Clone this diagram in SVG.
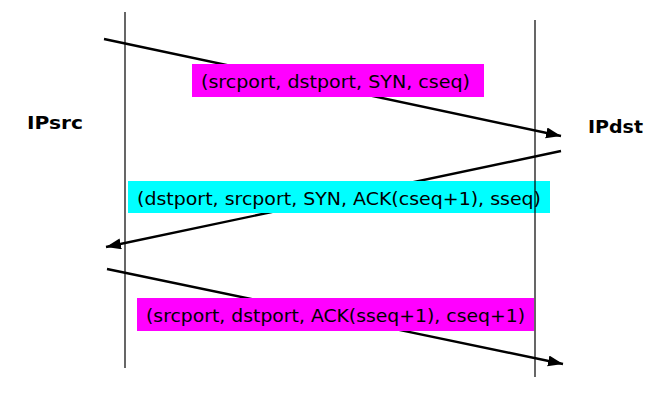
<svg xmlns="http://www.w3.org/2000/svg" width="668" height="406" viewBox="0 0 668 406">
<style>
.life{stroke:#000;stroke-width:1.2;fill:none}
.msg{stroke:#000;stroke-width:2.4;fill:none;marker-end:url(#ah)}
.lbl{font-family:"DejaVu Sans","Verdana",sans-serif;font-size:18px;fill:#000}
.host{font-family:"DejaVu Sans","Verdana",sans-serif;font-size:18px;font-weight:bold;fill:#000}
.mag{fill:#ff00ff}
.cyan{fill:#00ffff}
</style>
<defs>
<marker id="ah" markerUnits="userSpaceOnUse" markerWidth="16" markerHeight="12" refX="15" refY="5.5" orient="auto">
<path d="M0,0 L15,5.5 L0,11 Z" fill="#000"/>
</marker>
</defs>
<rect width="668" height="406" fill="#fff"/>
<g id="connectors">
<line class="msg" x1="104" y1="39" x2="561" y2="136"/>
<line class="msg" x1="561" y1="151" x2="106" y2="247"/>
<line class="msg" x1="107" y1="269" x2="563" y2="364"/>
</g>
<g id="msg1">
<rect class="mag" x="192" y="64" width="292" height="33"/>
<text class="lbl" x="201" y="88" textLength="269" lengthAdjust="spacingAndGlyphs">(srcport, dstport, SYN, cseq)</text>
</g>
<g id="msg2">
<rect class="cyan" x="128" y="181" width="422" height="32"/>
<text class="lbl" x="137" y="205" textLength="404" lengthAdjust="spacingAndGlyphs">(dstport, srcport, SYN, ACK(cseq+1), sseq)</text>
</g>
<g id="msg3">
<rect class="mag" x="137" y="298" width="397" height="33"/>
<text class="lbl" x="146" y="322" textLength="379" lengthAdjust="spacingAndGlyphs">(srcport, dstport, ACK(sseq+1), cseq+1)</text>
</g>
<g id="IPsrc">
<line class="life" x1="125" y1="12" x2="125" y2="368"/>
<text class="host" x="27" y="129" textLength="56" lengthAdjust="spacingAndGlyphs">IPsrc</text>
</g>
<g id="IPdst">
<line class="life" x1="535" y1="20" x2="535" y2="377"/>
<text class="host" x="588" y="133" textLength="55" lengthAdjust="spacingAndGlyphs">IPdst</text>
</g>
</svg>
